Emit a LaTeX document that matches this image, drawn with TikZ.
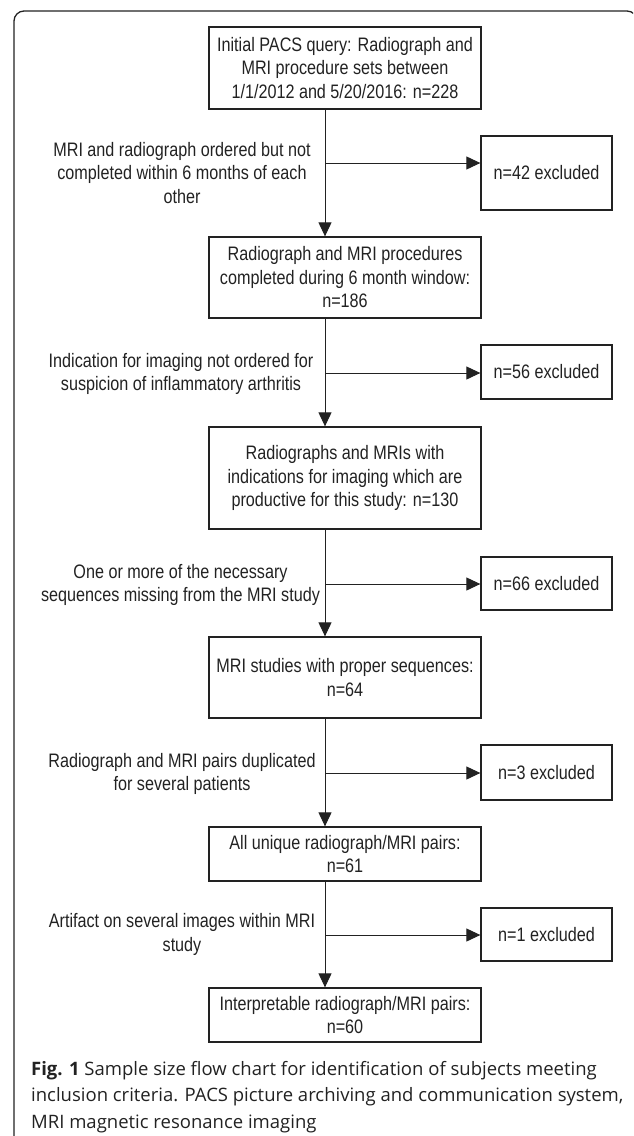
\documentclass[tikz,border=0pt]{standalone}
\usepackage{fontspec}
\setmainfont[FakeStretch=0.83]{Liberation Sans}
\newfontfamily\capfont{Open Sans}
\usepackage{tikz}
\usetikzlibrary{positioning,arrows.meta}
\definecolor{ink}{HTML}{222222}

\begin{document}
\begin{tikzpicture}[x=1pt,y=1pt,on grid,color=ink,
    >={Triangle[width=13pt,length=14pt]},
    font=\fontsize{19.5}{23.5}\selectfont,
    stage/.style={draw,line width=1.3pt,align=center,minimum width=272pt,inner sep=0pt},
    drop/.style={draw,line width=1.3pt,minimum width=131pt,inner sep=0pt},
    why/.style={align=center,inner sep=0pt}]
   \useasboundingbox (0,0) rectangle (633,-1136);
   \clip (0,0) rectangle (633,-1136);
   \draw[line width=1.3pt,rounded corners=10pt] (14,-1150) -- (14,-11) -- (637,-11) -- (637,-1150);
   % main column
   \node [stage, minimum height=82pt] (b_1) at (345,-68) {Initial PACS query: Radiograph and\\MRI procedure sets between\\1/1/2012 and 5/20/2016: n=228};
   \node [stage, minimum height=81pt, below=209.5pt of b_1] (b_2) {Radiograph and MRI procedures\\completed during 6 month window:\\n=186};
   \node [stage, minimum height=102pt, below=200.5pt of b_2] (b_3) {Radiographs and MRIs with\\indications for imaging which are\\productive for this study: n=130};
   \node [stage, minimum height=81pt, below=199.5pt of b_3] (b_4) {MRI studies with proper sequences:\\n=64};
   \node [stage, minimum height=54pt, below=176.5pt of b_4] (b_5) {All unique radiograph/MRI pairs:\\n=61};
   \node [stage, minimum height=54pt, below=161pt of b_5] (b_6) {Interpretable radiograph/MRI pairs:\\n=60};
   % excluded
   \node [drop, minimum height=74pt, below right=105pt and 201.5pt of b_1] (x_1) {n=42 excluded};
   \node [drop, minimum height=54pt, below right=94.5pt and 201.5pt of b_2] (x_2) {n=56 excluded};
   \node [drop, minimum height=53pt, below right=105.5pt and 201.5pt of b_3] (x_3) {n=66 excluded};
   \node [drop, minimum height=55pt, below right=95pt and 201.5pt of b_4] (x_4) {n=3 excluded};
   \node [drop, minimum height=53pt, below right=80.5pt and 201.5pt of b_5] (x_5) {n=1 excluded};
   % reasons
   \node [why, left=364.5pt of x_1] (r_1) {MRI and radiograph ordered but not\\completed within 6 months of each\\other};
   \node [why, left=365.5pt of x_2, yshift=-2pt] (r_2) {Indication for imaging not ordered for\\suspicion of inflammatory arthritis};
   \node [why, left=366pt of x_3, yshift=-1.5pt] (r_3) {One or more of the necessary\\sequences missing from the MRI study};
   \node [why, left=364.5pt of x_4, yshift=-1.5pt] (r_4) {Radiograph and MRI pairs duplicated\\for several patients};
   \node [why, left=364.5pt of x_5] (r_5) {Artifact on several images within MRI\\study};
   \coordinate (j_1) at (325,-163);
   \coordinate (j_2) at (325,-373);
   \coordinate (j_3) at (325,-584);
   \coordinate (j_4) at (325,-773);
   \coordinate (j_5) at (325,-935);
    \path[->,line width=1pt]
    (b_1.south -| j_1) edge (b_2.north -| j_1)
    (b_2.south -| j_2) edge (b_3.north -| j_2)
    (b_3.south -| j_3) edge (b_4.north -| j_3)
    (b_4.south -| j_4) edge (b_5.north -| j_4)
    (b_5.south -| j_5) edge (b_6.north -| j_5)
    (j_1) edge (j_1 -| x_1.west)
    (j_2) edge (j_2 -| x_2.west)
    (j_3) edge (j_3 -| x_3.west)
    (j_4) edge (j_4 -| x_4.west)
    (j_5) edge (j_5 -| x_5.west);
   % caption
   \node [anchor=base west, align=left, inner sep=0pt, font=\capfont\fontsize{18.5}{26.5}\selectfont] (cap) at (31,-1128)
     {\textbf{Fig. 1} Sample size flow chart for identification of subjects meeting\\inclusion criteria. PACS picture archiving and communication system,\\MRI magnetic resonance imaging};
\end{tikzpicture}
\end{document}
